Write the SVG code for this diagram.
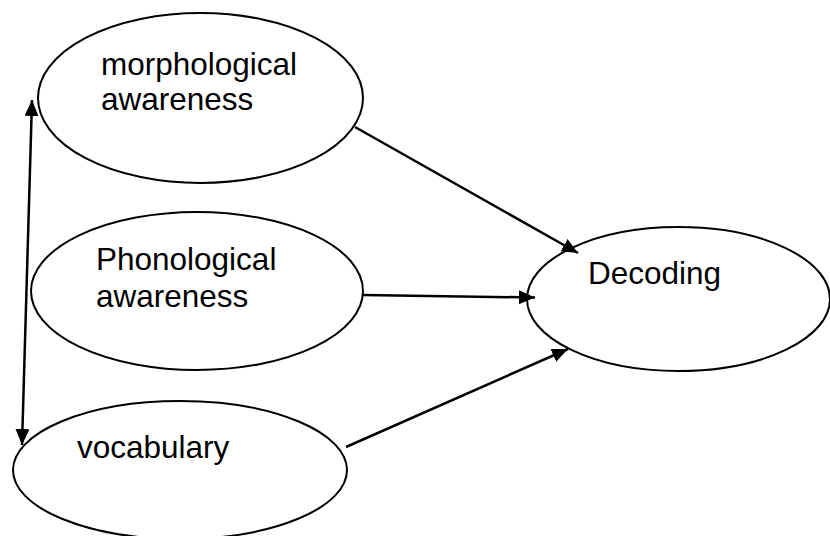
<svg xmlns="http://www.w3.org/2000/svg" width="830" height="536" viewBox="0 0 830 536">
<style>
.node ellipse{fill:#fff;stroke:#000;stroke-width:2}
.node text{font-family:"Liberation Sans",Arial,sans-serif;font-size:31.5px;fill:#000}
.edges line{stroke:#000;stroke-width:2.5}
</style>
<defs>
<marker id="ah" markerUnits="userSpaceOnUse" markerWidth="18" markerHeight="16" refX="16" refY="7" orient="auto-start-reverse" viewBox="0 0 18 16">
<path d="M0,0 L16,7 L0,14 z" fill="#000"/>
</marker>
</defs>
<rect width="830" height="536" fill="#fff"/>
<g id="morph" class="node">
<ellipse cx="200.5" cy="98" rx="162.5" ry="85"/>
<text x="101" y="75">morphological</text>
<text x="101" y="110">awareness</text>
</g>
<g id="phon" class="node">
<ellipse cx="197" cy="291" rx="166" ry="79"/>
<text x="96" y="270">Phonological</text>
<text x="96" y="307">awareness</text>
</g>
<g id="vocab" class="node">
<ellipse cx="180" cy="470" rx="167" ry="69"/>
<text x="77" y="458">vocabulary</text>
</g>
<g id="decoding" class="node">
<ellipse cx="678.5" cy="299" rx="151.5" ry="72"/>
<text x="588" y="284">Decoding</text>
</g>
<g id="connectors" class="edges">
<line x1="355" y1="127" x2="578" y2="253" marker-end="url(#ah)"/>
<line x1="363" y1="295" x2="535" y2="297.5" marker-end="url(#ah)"/>
<line x1="346" y1="447" x2="568" y2="349" marker-end="url(#ah)"/>
<line x1="32" y1="100" x2="22" y2="445" marker-start="url(#ah)" marker-end="url(#ah)"/>
</g>
</svg>
